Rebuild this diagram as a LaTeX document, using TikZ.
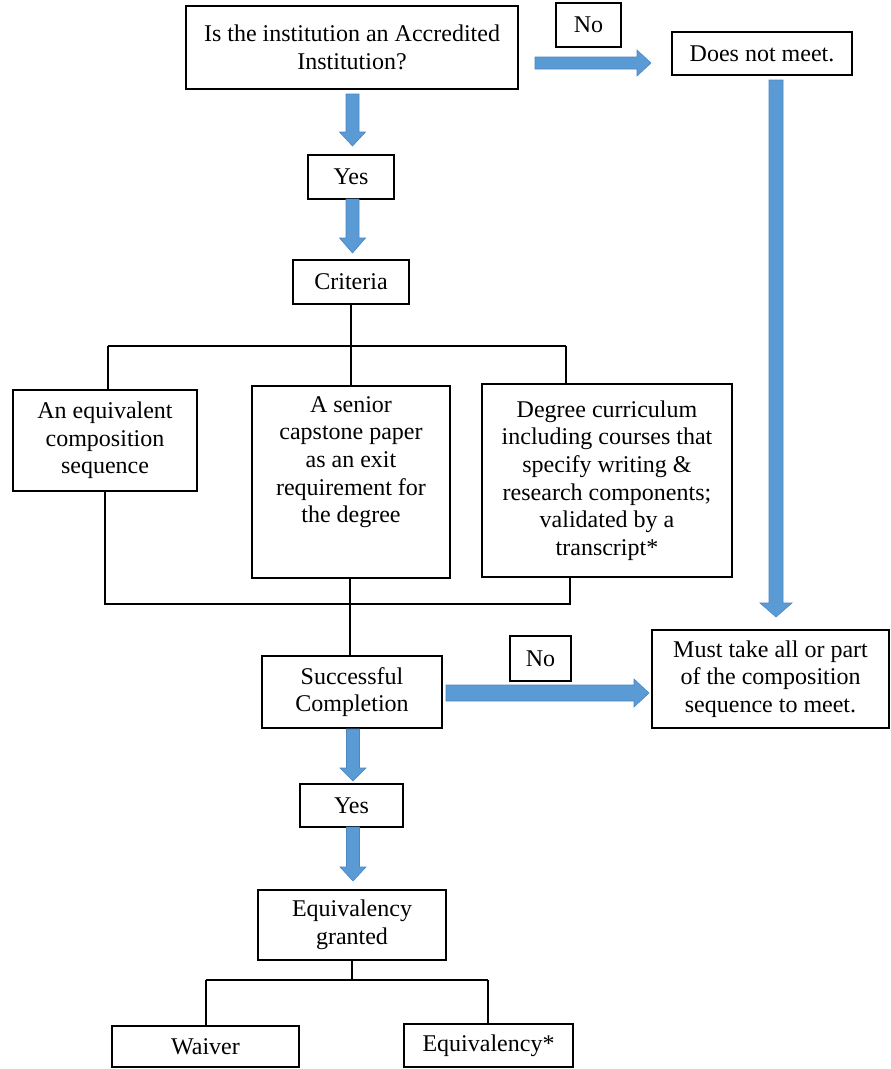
\documentclass[tikz,border=0pt]{standalone}
\usepackage{fontspec}
\setmainfont{Liberation Serif}
\usetikzlibrary{calc}
\definecolor{arrfill}{HTML}{5B9BD5}
\definecolor{arredge}{HTML}{4A86C0}
\tikzset{
  boxfont/.style={font=\fontsize{24}{27.6}\selectfont},
  box/.style={draw=black, line width=1.6pt, inner sep=0pt, align=center, boxfont},
  link/.style={draw=black, line width=1.4pt},
  barrow/.style={fill=arrfill, draw=arredge, line width=0.6pt, line join=miter},
}
% block arrow: #1 start coord, #2 tip coord, #3 shaft half width, #4 head half width, #5 head length
\newcommand\blockarrow[5]{%
  \coordinate (hb) at ($(#2)!#5!(#1)$);
  \path[barrow] ($(#1)!#3!90:(#2)$) -- ($(hb)!#3!-90:(#1)$) -- ($(hb)!#4!-90:(#1)$)
     -- (#2) -- ($(hb)!#4!90:(#1)$) -- ($(hb)!#3!90:(#1)$) -- ($(#1)!#3!-90:(#2)$) -- cycle;
}
% node at box corners
\newcommand\boxnode[6]{% name, x1, y1, x2, y2, text
  \node[box, minimum width={#4-#2}, minimum height={#5-#3}] (#1) at ({(#2+#4)/2},{(#3+#5)/2}) {#6};
}
\begin{document}
\begin{tikzpicture}[x=1pt, y=-1pt]
\useasboundingbox (0,0) rectangle (891,1069);

\boxnode{q}{186}{6}{518}{89}{Is the institution an Accredited\\Institution?}
\boxnode{no1}{556}{3}{621}{47}{No}
\boxnode{dnm}{672}{32}{852}{75}{Does not meet.}
\boxnode{yes1}{308}{155}{394}{199}{Yes}
\boxnode{crit}{293}{260}{409}{304}{Criteria}
\boxnode{b1}{13}{390}{197}{491}{An equivalent\\composition\\sequence}
\node[box, minimum width=198pt, minimum height=192pt,
  label={[anchor=north, align=center, boxfont, inner sep=0pt, yshift=-11pt]north:A senior\\capstone paper\\as an exit\\requirement for\\the degree}]
  (b2) at (351,482) {};
\boxnode{b3}{482}{384}{732}{577}{Degree curriculum\\including courses that\\specify writing \&\\research components;\\validated by a\\transcript*}
\boxnode{sc}{262}{656}{442}{728}{Successful\\Completion}
\boxnode{no2}{510}{636}{571}{681}{No}
\boxnode{must}{652}{630}{889}{728}{Must take all or part\\of the composition\\sequence to meet.}
\boxnode{yes2}{300}{784}{403}{827}{Yes}
\boxnode{eg}{258}{890}{446}{960}{Equivalency\\granted}
\boxnode{waiver}{112}{1026}{299}{1067}{Waiver}
\boxnode{eqv}{404}{1024}{573}{1067}{Equivalency*}

% criteria split
\coordinate (cj) at (351,346);
\coordinate (cl) at (108,346);
\coordinate (cr) at (566,346);
\draw[link] (crit.south) -- (crit.south |- cj);
\draw[link] (cl) -- (cr);
\draw[link] (cl) -- (cl |- b1.north);
\draw[link] (cj) -- (cj |- b2.north);
\draw[link] (cr) -- (cr |- b3.north);
% merge
\coordinate (ml) at (105,604);
\coordinate (mr) at (570,604);
\coordinate (mc) at (350,604);
\draw[link] (ml |- b1.south) -- (ml) -- (mr) -- (mr |- b3.south);
\draw[link] (mc |- b2.south) -- (mc |- sc.north);
% final split
\coordinate (ej) at (352,980);
\coordinate (el) at (206,980);
\coordinate (er) at (488,980);
\draw[link] (eg.south) -- (eg.south |- ej);
\draw[link] (el) -- (er);
\draw[link] (el) -- (el |- waiver.north);
\draw[link] (er) -- (er |- eqv.north);

% block arrows
\coordinate (a1s) at (535,63);   \coordinate (a1e) at (651,63);
\coordinate (a2s) at (776,80);   \coordinate (a2e) at (776,617);
\coordinate (a3s) at (352.5,94); \coordinate (a3e) at (352.5,146);
\coordinate (a4s) at (352.5,199);\coordinate (a4e) at (352.5,253);
\coordinate (a5s) at (446,693);  \coordinate (a5e) at (649,693);
\coordinate (a6s) at (353,729);  \coordinate (a6e) at (353,781);
\coordinate (a7s) at (353,827);  \coordinate (a7e) at (353,881);
\blockarrow{a1s}{a1e}{6pt}{13pt}{14pt}
\blockarrow{a2s}{a2e}{7pt}{16pt}{14pt}
\blockarrow{a3s}{a3e}{6.5pt}{13pt}{14pt}
\blockarrow{a4s}{a4e}{6.5pt}{13pt}{15pt}
\blockarrow{a5s}{a5e}{8pt}{14pt}{15pt}
\blockarrow{a6s}{a6e}{6.5pt}{13pt}{13pt}
\blockarrow{a7s}{a7e}{6.5pt}{13pt}{14pt}
\end{tikzpicture}
\end{document}
